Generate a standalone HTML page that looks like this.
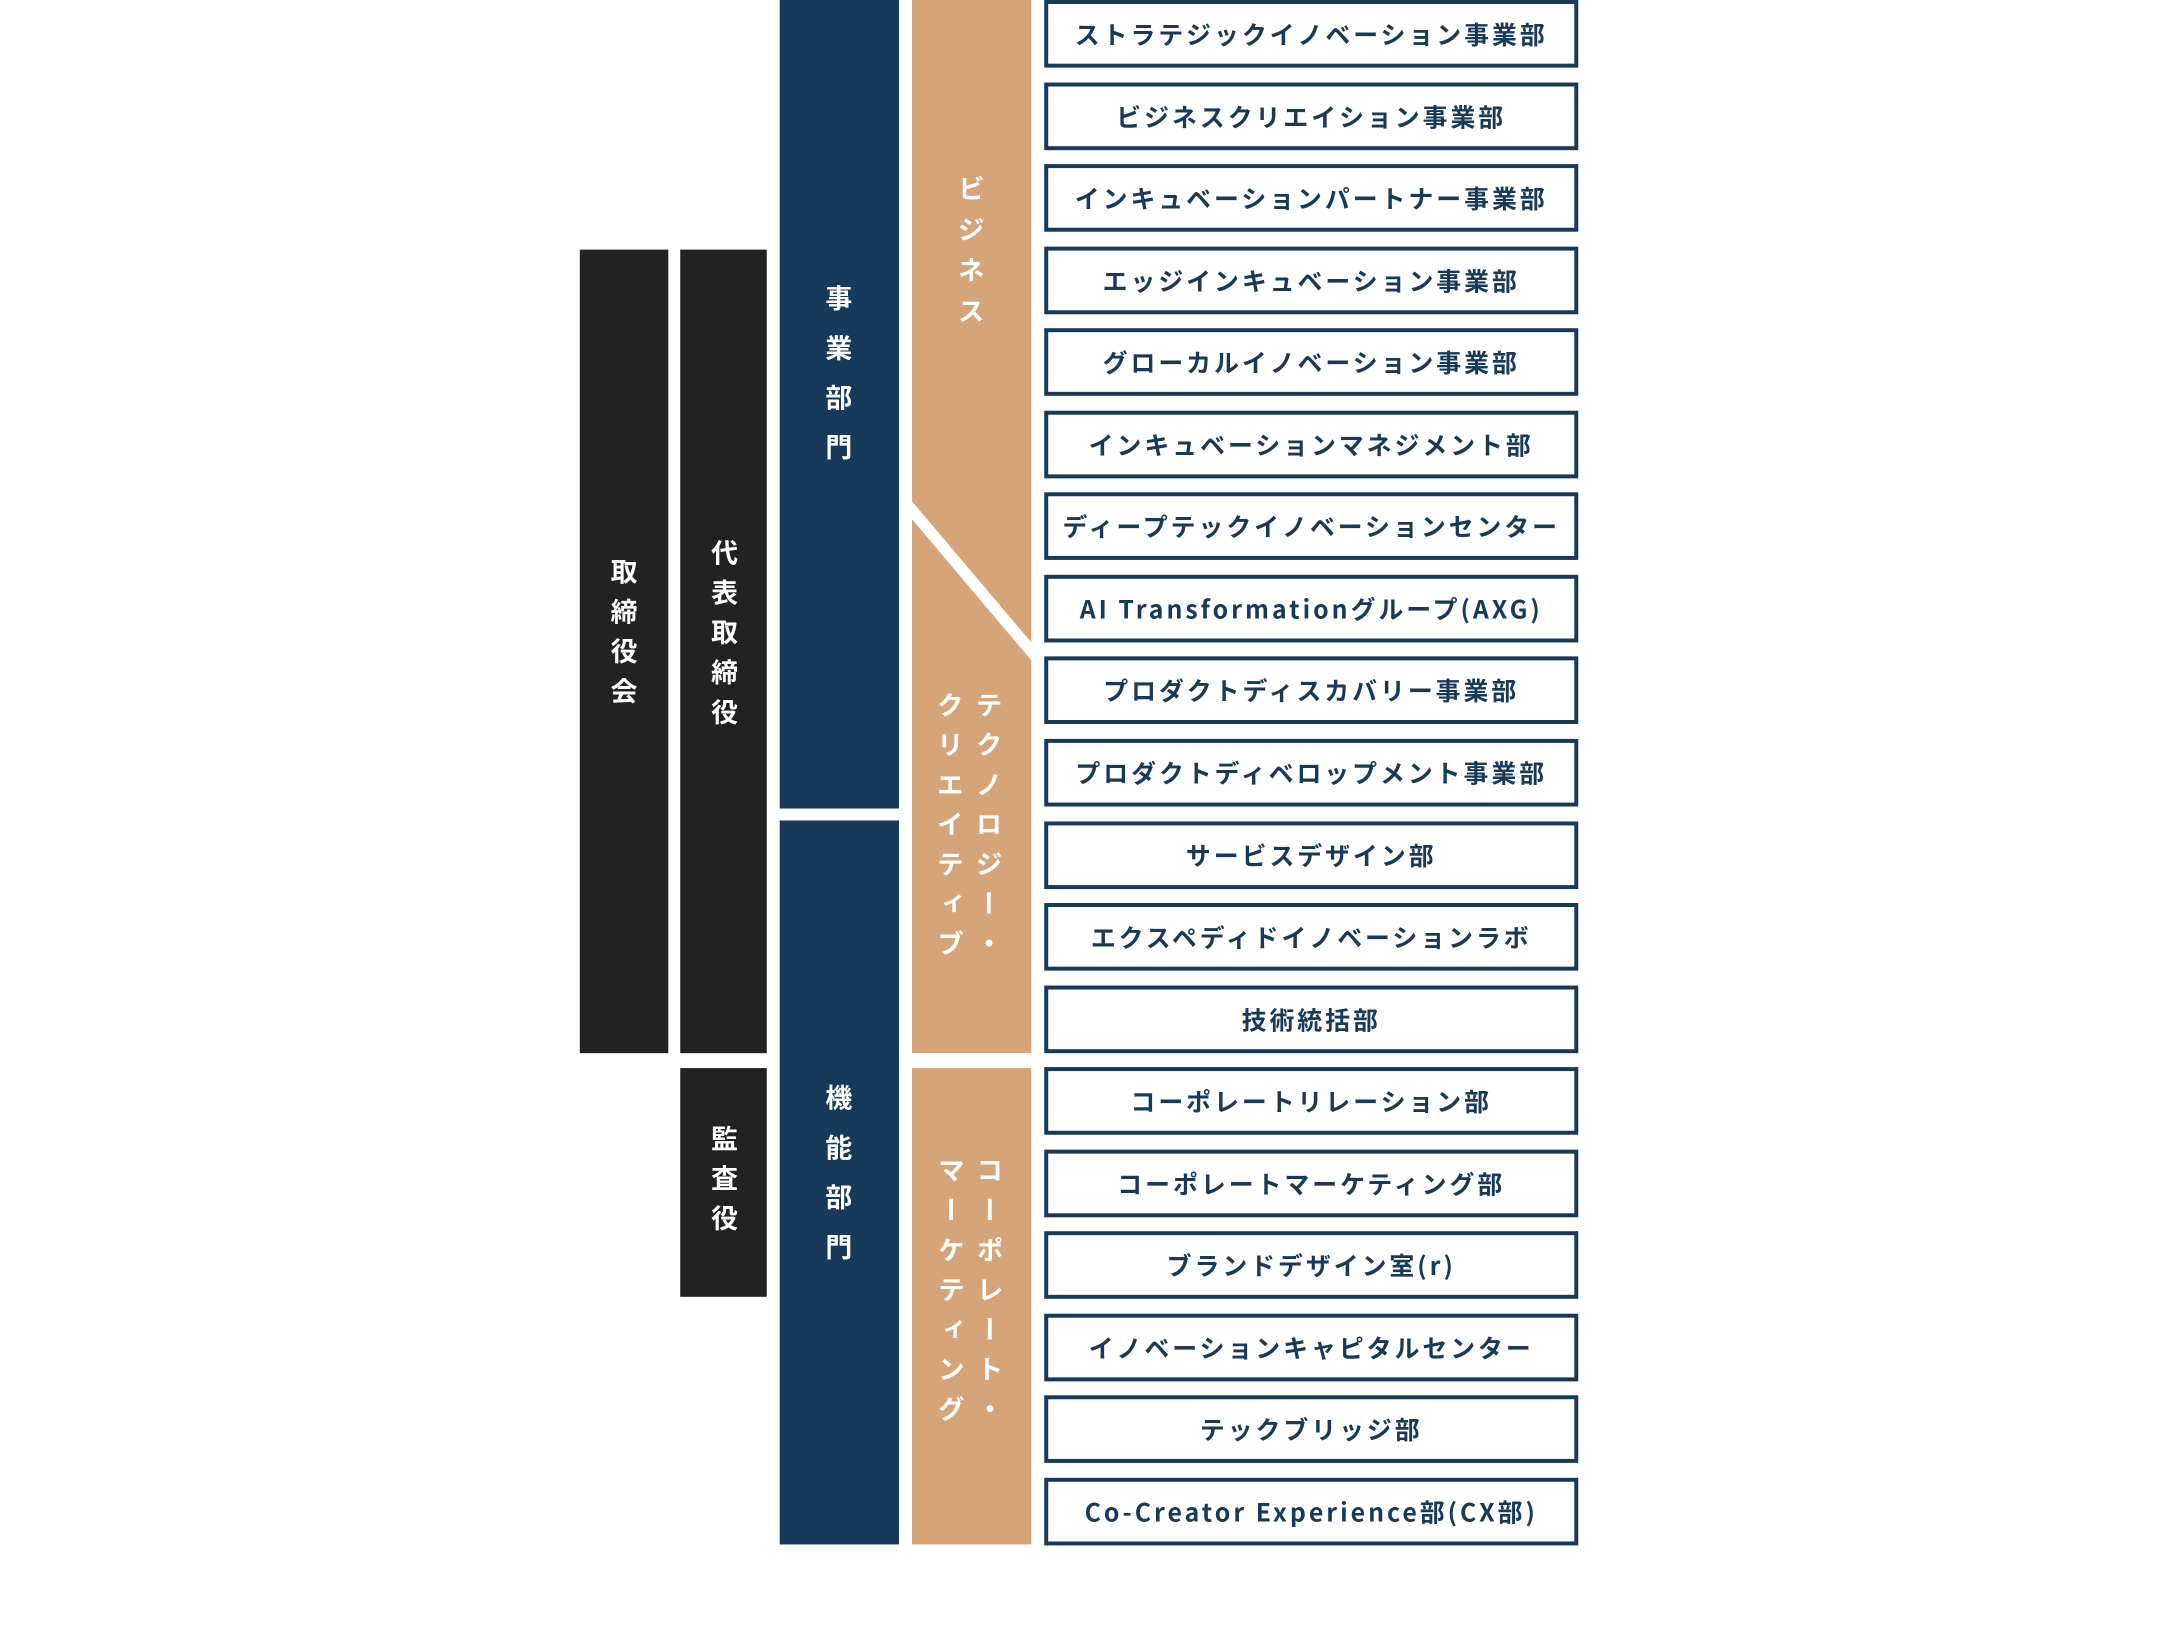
<!DOCTYPE html>
<html><head><meta charset="utf-8"><style>
*{margin:0;padding:0;box-sizing:border-box}
body{width:2160px;height:1640px;background:#fff;position:relative;overflow:hidden;font-family:"Liberation Sans","Noto Sans CJK JP",sans-serif;font-weight:bold}
#w{position:absolute;left:0;top:0;width:2160px;height:1640px;transform:scale(0.9945);transform-origin:0 0}
.r{position:absolute}
.blk{background:#222}
.nv{background:#173a5a}
.v{position:absolute;writing-mode:vertical-rl;color:#fff;font-size:27px;line-height:39px;font-family:"Noto Sans CJK JP",sans-serif;font-weight:bold;white-space:nowrap}
.box{position:absolute;left:1050px;width:537px;height:68px;border:4px solid #173a5a;color:#173a5a;font-size:25px;letter-spacing:3px;display:flex;align-items:center;justify-content:center;font-family:"Noto Sans CJK JP",sans-serif;font-weight:bold}
</style></head><body><div id="w">
<div class="r blk" style="left:583px;top:251px;width:89px;height:808px"></div>
<div class="r blk" style="left:684px;top:251px;width:87px;height:808px"></div>
<div class="r blk" style="left:684px;top:1074px;width:87px;height:230px"></div>
<div class="r nv" style="left:784px;top:0;width:120px;height:813px"></div>
<div class="r nv" style="left:784px;top:825px;width:120px;height:728px"></div>
<svg class="r" style="left:0;top:0" width="2160" height="1640">
<polygon points="917,0 1037,0 1037,646 917,504" fill="#d6a479"/>
<polygon points="917,522 1037,664 1037,1059 917,1059" fill="#d6a479"/>
<rect x="917" y="1074" width="120" height="479" fill="#d6a479"/>
</svg>
<div class="v" style="left:608px;top:561px;letter-spacing:13px">取締役会</div>
<div class="v" style="left:709px;top:542px;letter-spacing:13px">代表取締役</div>
<div class="v" style="left:709px;top:1131px;letter-spacing:13px">監査役</div>
<div class="v" style="left:824px;top:286px;letter-spacing:23px">事業部門</div>
<div class="v" style="left:824px;top:1090px;letter-spacing:23px">機能部門</div>
<div class="v" style="left:957px;top:176px;letter-spacing:14px">ビジネス</div>
<div class="v" style="left:936px;top:695px;letter-spacing:13px">テクノロジー・<br>クリエイティブ</div>
<div class="v" style="left:937px;top:1163px;letter-spacing:13px">コーポレート・<br>マーケティング</div>
<div class="box" style="top:0px">ストラテジックイノベーション事業部</div>
<div class="box" style="top:83px">ビジネスクリエイション事業部</div>
<div class="box" style="top:165px">インキュベーションパートナー事業部</div>
<div class="box" style="top:248px">エッジインキュベーション事業部</div>
<div class="box" style="top:330px">グローカルイノベーション事業部</div>
<div class="box" style="top:413px">インキュベーションマネジメント部</div>
<div class="box" style="top:495px">ディープテックイノベーションセンター</div>
<div class="box" style="top:578px">AI Transformationグループ(AXG)</div>
<div class="box" style="top:660px">プロダクトディスカバリー事業部</div>
<div class="box" style="top:743px">プロダクトディベロップメント事業部</div>
<div class="box" style="top:826px">サービスデザイン部</div>
<div class="box" style="top:908px">エクスペディドイノベーションラボ</div>
<div class="box" style="top:991px">技術統括部</div>
<div class="box" style="top:1073px">コーポレートリレーション部</div>
<div class="box" style="top:1156px">コーポレートマーケティング部</div>
<div class="box" style="top:1238px">ブランドデザイン室(r)</div>
<div class="box" style="top:1321px">イノベーションキャピタルセンター</div>
<div class="box" style="top:1403px">テックブリッジ部</div>
<div class="box" style="top:1486px">Co-Creator Experience部(CX部)</div>
</div></body></html>
